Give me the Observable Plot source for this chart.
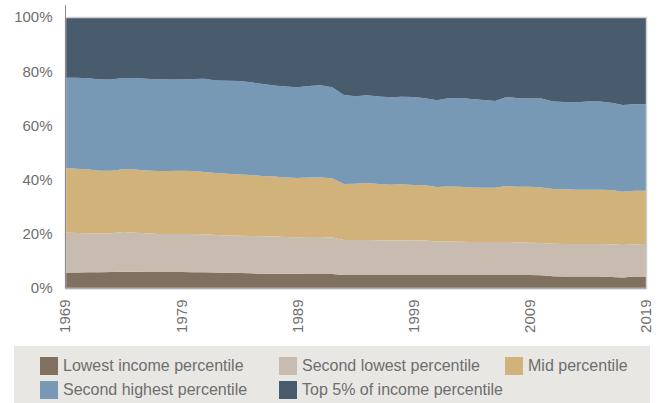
<!DOCTYPE html>
<html>
<head>
<meta charset="utf-8">
<script src="https://cdn.jsdelivr.net/npm/d3@7"></script>
<script src="https://cdn.jsdelivr.net/npm/@observablehq/plot@0.6"></script>
<style>
  html, body { margin: 0; padding: 0; background: #fff; }
  body { width: 659px; height: 403px; overflow: hidden; font-family: "Liberation Sans", Arial, sans-serif; }
  #legend {
    position: absolute; left: 14px; top: 346px; width: 636px; height: 57px;
    background: #e9e7e3; box-sizing: border-box; padding: 11px 0 0 26px;
    display: grid; grid-template-columns: 239px 226px auto; grid-auto-rows: 18px; row-gap: 6px;
  }
  .item { display: flex; align-items: center; font-size: 16px; color: #6e6e6e; white-space: nowrap; }
  .sw { width: 18px; height: 18px; margin-right: 5px; flex: none; }
</style>
</head>
<body>
<div id="chart"></div>
<div id="legend"></div>
<script>
const years = d3.range(1969, 2020);
const seriesNames = ["Lowest income percentile", "Second lowest percentile", "Mid percentile", "Second highest percentile", "Top 5% of income percentile"];
const seriesColors = ["#80705f", "#c8bcb0", "#d2b27b", "#7799b6", "#485c6e"];
const yTicks = [0, 20, 40, 60, 80, 100];
const xTicks = [1969, 1979, 1989, 1999, 2009, 2019];

// shares (%) per year, 1969..2019
const lowest = [5.7,5.7,5.8,5.8,5.9,6.0,6.0,5.9,5.9,5.9,5.9,5.8,5.8,5.7,5.6,5.5,5.4,5.3,5.3,5.3,5.3,5.2,5.2,5.2,4.8,4.8,4.8,4.8,4.8,4.8,4.8,4.8,4.8,4.8,4.8,4.8,4.8,4.8,4.8,4.8,4.8,4.7,4.3,4.2,4.2,4.2,4.2,4.1,3.9,4.2,4.2];
const secondLowest = [14.8,14.6,14.4,14.2,14.3,14.7,14.4,14.3,14.0,14.0,14.0,14.1,14.0,13.9,13.8,13.8,13.8,13.8,13.7,13.5,13.4,13.6,13.6,13.4,12.9,12.9,12.9,12.8,12.7,12.7,12.8,12.7,12.4,12.4,12.3,12.2,12.2,12.2,12.2,12.1,11.9,11.9,12.0,12.0,12.0,12.0,12.0,12.0,12.0,11.9,12.0];
const mid = [23.8,23.7,23.5,23.3,23.1,23.1,23.3,23.2,23.3,23.3,23.4,23.3,23.0,22.8,22.8,22.6,22.5,22.2,22.1,22.0,21.9,22.0,22.0,21.9,20.7,20.8,21.0,20.8,20.6,20.8,20.4,20.4,20.1,20.3,20.3,20.1,20.0,20.0,20.6,20.5,20.7,20.5,20.2,20.2,20.1,20.1,20.1,20.1,19.6,19.8,19.7];
const secondHighest = [33.3,33.6,33.7,33.6,33.6,33.7,33.8,33.8,33.8,33.7,33.6,33.9,34.4,34.2,34.3,34.5,34.2,34.0,33.6,33.6,33.5,33.7,34.0,33.6,32.8,32.3,32.4,32.3,32.3,32.3,32.5,32.1,32.0,32.5,32.7,32.6,32.4,32.0,32.9,32.6,32.5,32.8,32.3,32.2,32.2,32.5,32.5,32.2,32.0,31.9,31.9];
const top5 = [22.4,22.4,22.6,23.1,23.1,22.5,22.5,22.8,23.0,23.1,23.1,22.9,22.8,23.4,23.5,23.6,24.1,24.7,25.3,25.6,25.9,25.5,25.2,25.9,28.8,29.2,28.9,29.3,29.6,29.4,29.5,30.0,30.7,30.0,29.9,30.3,30.6,31.0,29.5,30.0,30.1,30.1,31.2,31.4,31.5,31.2,31.2,31.6,32.5,32.2,32.2];

const seriesValues = [lowest, secondLowest, mid, secondHighest, top5];
const data = [];
years.forEach((yr, i) => {
  seriesNames.forEach((s, k) => data.push({year: yr, series: s, value: seriesValues[k][i]}));
});

const fontFam = '"Liberation Sans", Arial, sans-serif';
const chart = Plot.plot({
  width: 659,
  height: 346,
  marginTop: 17,
  marginBottom: 58,
  marginLeft: 65,
  marginRight: 13,
  style: {fontFamily: fontFam, fontSize: "15px", color: "#6e6e6e", background: "transparent", overflow: "visible"},
  x: {domain: [1969, 2019], ticks: xTicks, tickFormat: d => String(d), tickRotate: -90, tickSize: 0, tickPadding: 11, label: null},
  y: {domain: [0, 100], ticks: yTicks, tickFormat: d => d + "%", tickSize: 0, tickPadding: 13, label: null},
  color: {domain: seriesNames, range: seriesColors},
  marks: [
    Plot.areaY(data, {x: "year", y: "value", fill: "series", z: "series"}),
    Plot.frame({stroke: "#cfcfcf", strokeWidth: 1.5}),
    Plot.ruleY([0], {stroke: "#b0b0b0", strokeWidth: 1.5}),
    Plot.ruleX([1969], {y1: 0, y2: 104.5, stroke: "#8a8a8a", strokeWidth: 1, clip: false})
  ]
});
document.getElementById("chart").appendChild(chart);

const legend = document.getElementById("legend");
seriesNames.forEach((s, k) => {
  const it = document.createElement("div");
  it.className = "item";
  const sw = document.createElement("span");
  sw.className = "sw";
  sw.style.background = seriesColors[k];
  const tx = document.createElement("span");
  tx.textContent = s;
  it.appendChild(sw); it.appendChild(tx);
  legend.appendChild(it);
});
</script>
</body>
</html>
